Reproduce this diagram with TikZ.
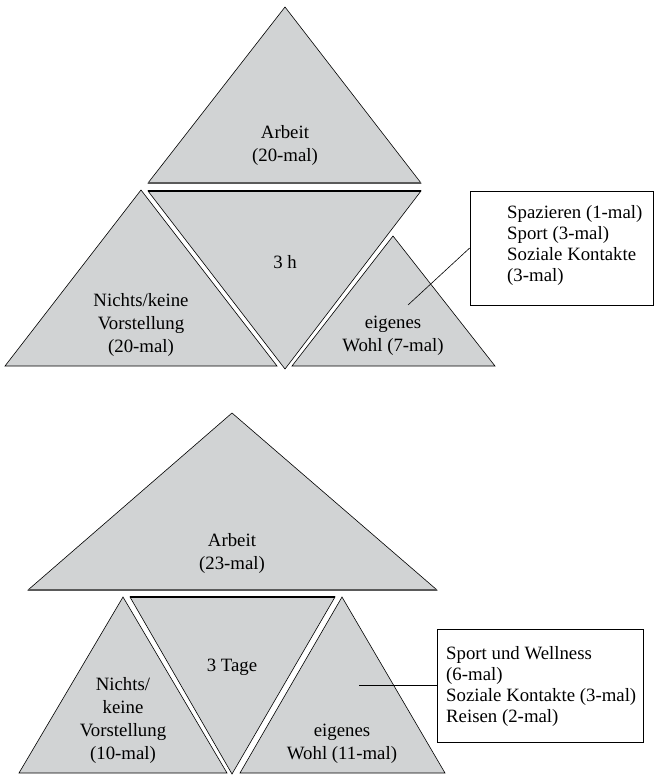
\documentclass[tikz,border=0pt]{standalone}
\usepackage{fontspec}
\setmainfont{Liberation Serif}
\definecolor{trifill}{RGB}{209,211,212}
\definecolor{basegray}{RGB}{90,90,90}
\begin{document}
\begin{tikzpicture}[x=1pt,y=-1pt,
  tri/.style={fill=trifill, draw=black, line width=0.6pt, line join=miter},
  baseedge/.style={draw=basegray, line width=1.6pt},
  topedge/.style={draw=black, line width=1.2pt},
  lbl/.style={align=center, inner sep=0pt, font=\fontsize{18.8}{23}\selectfont},
  boxtxt/.style={align=left, inner sep=0pt, anchor=west, font=\fontsize{18.8}{21}\selectfont},
  callbox/.style={draw=black, line width=0.6pt, fill=white, inner sep=0pt},
  callline/.style={draw=black, line width=0.6pt}]
\useasboundingbox (0,0) rectangle (654,776);
% ---------- upper diagram ----------
\path[tri] (285,7) -- (421,183) -- (148,183) -- cycle;
\path[baseedge] (148,183) -- (421,183);
\path[tri] (148,191) -- (421,191) -- (285,369) -- cycle;
\path[topedge] (148,191) -- (421,191);
\path[tri] (141,190) -- (277,366) -- (5,366) -- cycle;
\path[tri] (393,236) -- (495,366) -- (292,366) -- cycle;
\node[lbl] (arbA) at (285,145) {Arbeit\\(20-mal)};
\node[lbl] (midA) at (285,262) {3 h};
\node[lbl] (nixA) at (141,325) {Nichts/keine\\Vorstellung\\(20-mal)};
\node[lbl] (wohlA) at (393,336) {eigenes\\Wohl (7-mal)};
\node[callbox, minimum width=183pt, minimum height=114pt] (boxA) at (561.5,248) {};
\node[boxtxt] (txtA) at (507,245) {Spazieren (1-mal)\\Sport (3-mal)\\Soziale Kontakte\\(3-mal)};
\coordinate (ptA) at (408,305);
\path[callline] (boxA.west) -- (ptA);
% ---------- lower diagram ----------
\path[tri] (232,413) -- (437,590) -- (28,590) -- cycle;
\path[baseedge] (28,590) -- (437,590);
\path[tri] (130,597) -- (335,597) -- (232,774) -- cycle;
\path[topedge] (130,597) -- (335,597);
\path[tri] (123,597) -- (227,773) -- (19,773) -- cycle;
\path[tri] (342,597) -- (445,773) -- (240,773) -- cycle;
\node[lbl] (arbB) at (232,553) {Arbeit\\(23-mal)};
\node[lbl] (midB) at (232,667) {3 Tage};
\node[lbl] (nixB) at (123,720) {Nichts/\\keine\\Vorstellung\\(10-mal)};
\node[lbl] (wohlB) at (342,744) {eigenes\\Wohl (11-mal)};
\node[callbox, minimum width=206pt, minimum height=113pt] (boxB) at (540,685.5) {};
\node[boxtxt] (txtB) at (446,686) {Sport und Wellness\\(6-mal)\\Soziale Kontakte (3-mal)\\Reisen (2-mal)};
\coordinate (ptB) at (359,685.5);
\path[callline] (boxB.west) -- (ptB);
\end{tikzpicture}
\end{document}
